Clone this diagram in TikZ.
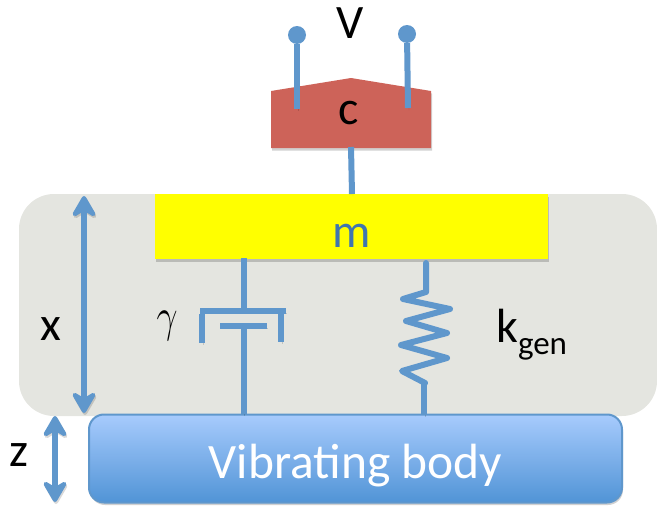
\documentclass[tikz,border=0pt]{standalone}
\usepackage{fontspec}
\setmainfont{Carlito}
\usetikzlibrary{arrows.meta,shadows}
\definecolor{wireblue}{HTML}{5F97CC}
\definecolor{stagegray}{HTML}{E4E5E0}
\definecolor{sensorred}{HTML}{CD6359}
\definecolor{massyellow}{HTML}{FFFF00}
\definecolor{bodytop}{HTML}{A8CBFD}
\definecolor{bodybottom}{HTML}{5094D6}
\definecolor{masstext}{HTML}{3F75B0}
\newcommand{\labelsize}[1]{\fontsize{#1}{#1}\selectfont}
\tikzset{
    softshadow/.style={drop shadow={shadow xshift=1pt,shadow yshift=-2.5pt,fill=black,opacity=0.18}},
    wire/.style={draw=wireblue,line width=6pt,preaction={draw=black,opacity=0.15,transform canvas={xshift=1pt,yshift=-2pt}}},
    travel/.style={wire,{Stealth[length=26pt,width=30pt,inset=9pt,round]}-{Stealth[length=26pt,width=30pt,inset=9pt,round]}},
    pin/.style={circle,fill=wireblue,inner sep=0pt,minimum size=18pt},
    tag/.style={inner sep=0pt,text=black,font=\labelsize{48}}
}
\begin{document}
\begin{tikzpicture}[x=1pt,y=-1pt]
                \useasboundingbox (0,0) rectangle (657,506);
                \node (stage) [fill=stagegray,rounded corners=35pt,inner sep=0pt,minimum width=638pt,minimum height=222pt] at (338,305) {};
                \node (body) [draw=wireblue,line width=2pt,rounded corners=15pt,top color=bodytop,bottom color=bodybottom,inner sep=0pt,minimum width=533pt,minimum height=88pt,softshadow] at (355.5,458.5) {};
                \node (mass) [fill=massyellow,inner sep=0pt,minimum width=393pt,minimum height=65pt,softshadow] at (351.5,226.5) {};
                \path[fill=sensorred,softshadow] (271,91)--(351,78)--(431,91)--(431,148)--(271,148)--cycle;
                \coordinate (sensorbase) at (351,147);
                \coordinate (sensormass) at (352,194);
                \node (pinleft) [pin] at (297,35) {};
                \node (pinright) [pin] at (407,34) {};
                \coordinate (pinleftend) at (297,109);
                \coordinate (pinrightend) at (408,108);
                \draw[wire] (pinleft)--(pinleftend);
                \draw[wire] (pinright)--(pinrightend);
                \draw[wire] (sensorbase)--(sensormass);
                % damper
                \coordinate (dampertop) at (244,258);
                \coordinate (dampercup) at (244,311);
                \coordinate (piston) at (243.5,326);
                \coordinate (damperfoot) at (243.5,414);
                \coordinate (cupleft) at (200,311);
                \coordinate (cupright) at (286,311);
                \coordinate (legleft) at (202,314);
                \coordinate (legleftend) at (202,343);
                \coordinate (legright) at (281,314);
                \coordinate (legrightend) at (281,342);
                \coordinate (pistonleft) at (220,326);
                \coordinate (pistonright) at (267,326);
                \draw[wire] (dampertop)--(dampercup);
                \draw[wire] (cupleft)--(cupright);
                \draw[wire] (legleft)--(legleftend);
                \draw[wire] (legright)--(legrightend);
                \draw[wire] (pistonleft)--(pistonright);
                \draw[wire] (piston)--(damperfoot);
                % spring
                \coordinate (springtop) at (426,263);
                \coordinate (springfoot) at (424,415);
                \draw[wire,line join=round,line cap=round] (springtop)--(426,292)--(403,299)--(450,309)--(406,321)--(447,333)--(401,345)--(447,358)--(402,371)--(425,383)--(424,383);
                \draw[wire] (424,381)--(springfoot);
                % travel arrows
                \coordinate (xtop) at (84,196);
                \coordinate (xfoot) at (84,413);
                \coordinate (ztop) at (55,416);
                \coordinate (zfoot) at (55,502);
                \draw[travel] (xtop)--(xfoot);
                \draw[travel] (ztop)--(zfoot);
                % labels
                \node (vlabel) [tag] at (350,23) {V};
                \node (clabel) [tag] at (349,113) {c};
                \node (mlabel) [tag,text=masstext] at (352,236) {m};
                \node (xlabel) [tag] at (51,329) {x};
                \node (zlabel) [tag] at (19,455) {z};
                \node (gammalabel) [tag] at (167,326) {\scalebox{1.5}[1.9]{$\gamma$}};
                \node (klabel) [tag,anchor=west] at (496,335) {k\raisebox{-12pt}{\labelsize{33}gen}};
                \node (bodylabel) [tag,text=white,font=\labelsize{49.5}] at (355.5,466) {Vibrating body};
\end{tikzpicture}
\end{document}
